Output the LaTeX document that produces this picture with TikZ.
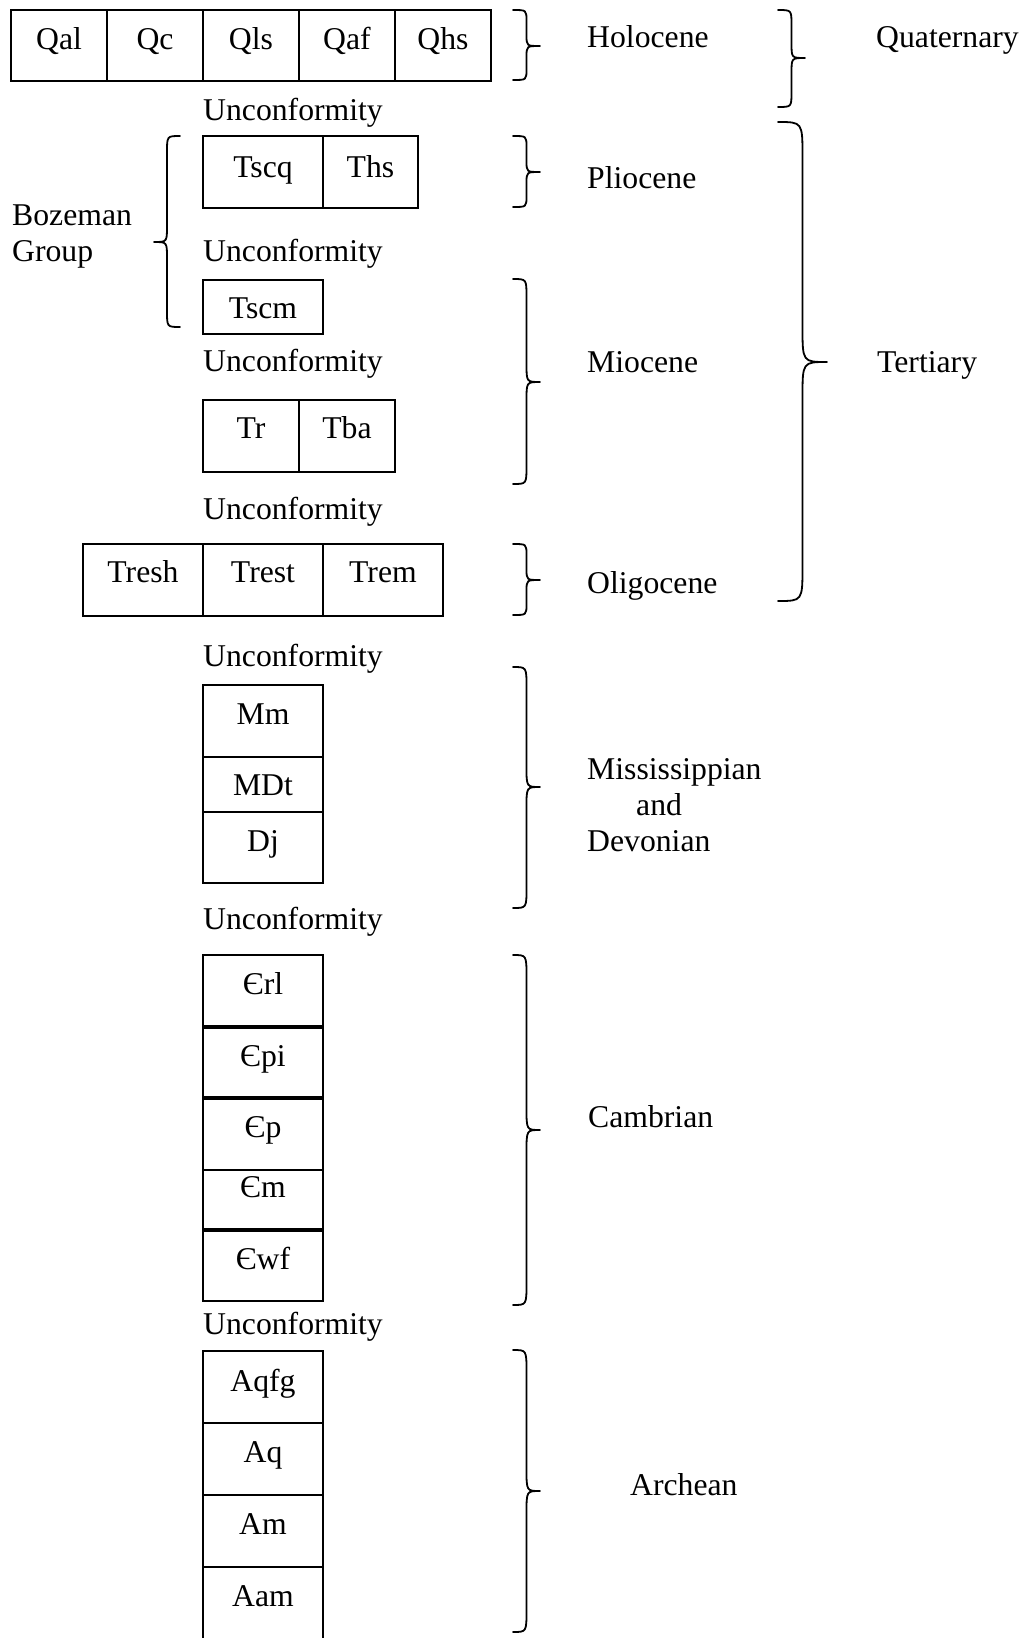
\documentclass[tikz,border=0pt]{standalone}
\usepackage{fontspec}
\setmainfont{Liberation Serif}
\tikzset{
  cell/.style={draw, line width=1.8pt, inner sep=0pt, outer sep=0pt},
  lbl/.style={inner sep=0pt, text height=20pt, text depth=0pt, font=\fontsize{31.7}{36}\selectfont},
  lbw/.style={lbl, anchor=west},
  brc/.style={line width=1.8pt, line cap=round, line join=round},
  thickdiv/.style={line width=3.2pt},
}
% name, x1, y1, x2, y2, text, text y
\newcommand\cellbox[7]{%
  \node[cell, minimum width={#4pt-#2pt}, minimum height={#5pt-#3pt}] (#1) at ({(#2+#4)/2},{(#3+#5)/2}) {};
  \node[lbl] (#1t) at ({(#2+#4)/2},#7) {#6};
}
% hook end x, cusp x, top y, bottom y, cusp y, radius
\newcommand\mybrace[6]{%
  \draw[brc] (#1,#3) .. controls ({(#1+#2)/2},#3) .. ({(#1+#2)/2},{#3+#6})
    -- ({(#1+#2)/2},{#5-#6}) .. controls ({(#1+#2)/2},#5) .. (#2,#5)
    .. controls ({(#1+#2)/2},#5) .. ({(#1+#2)/2},{#5+#6})
    -- ({(#1+#2)/2},{#4-#6}) .. controls ({(#1+#2)/2},#4) .. (#1,#4);
}
\begin{document}
\begin{tikzpicture}[x=1pt,y=-1pt]
\fill[white] (0,0) rectangle (1023,1638);
\useasboundingbox (0,0) rectangle (1023,1638);

% Quaternary row
\cellbox{qal}{11}{10}{107}{81}{Qal}{39.5}
\cellbox{qc}{107}{10}{203}{81}{Qc}{39.5}
\cellbox{qls}{203}{10}{299}{81}{Qls}{39.5}
\cellbox{qaf}{299}{10}{395}{81}{Qaf}{39.5}
\cellbox{qhs}{395}{10}{491}{81}{Qhs}{39.5}

% Tertiary
\cellbox{tscq}{203}{136}{323}{208}{Tscq}{167}
\cellbox{ths}{323}{136}{418}{208}{Ths}{167}
\cellbox{tscm}{203}{280}{323}{334}{Tscm}{308}
\cellbox{tr}{203}{400}{299}{472}{Tr}{428}
\cellbox{tba}{299}{400}{395}{472}{Tba}{428}
\cellbox{tresh}{83}{544}{203}{616}{Tresh}{572}
\cellbox{trest}{203}{544}{323}{616}{Trest}{572}
\cellbox{trem}{323}{544}{443}{616}{Trem}{572}

% Mississippian and Devonian
\cellbox{mm}{203}{685}{323}{757}{Mm}{714}
\cellbox{mdt}{203}{757}{323}{812}{MDt}{785}
\cellbox{dj}{203}{812}{323}{883}{Dj}{841}

% Cambrian
\cellbox{crl}{203}{955}{323}{1027}{Єrl}{984}
\cellbox{cpi}{203}{1027}{323}{1098}{Єpi}{1056}
\cellbox{cp}{203}{1098}{323}{1170}{Єp}{1127}
\cellbox{cm}{203}{1170}{323}{1230}{Єm}{1187}
\cellbox{cwf}{203}{1230}{323}{1301}{Єwf}{1259}
\draw[thickdiv] (crl.south west) -- (crl.south east);
\draw[thickdiv] (cpi.south west) -- (cpi.south east);
\draw[thickdiv] (cm.south west) -- (cm.south east);

% Archean
\cellbox{aqfg}{203}{1351}{323}{1423}{Aqfg}{1381}
\cellbox{aq}{203}{1423}{323}{1495}{Aq}{1452}
\cellbox{am}{203}{1495}{323}{1567}{Am}{1524}
\cellbox{aam}{203}{1567}{323}{1650}{Aam}{1596}

% Unconformities
\node[lbw] (u1) at (203,110) {Unconformity};
\node[lbw] (u2) at (203,251) {Unconformity};
\node[lbw] (u3) at (203,361) {Unconformity};
\node[lbw] (u4) at (203,509) {Unconformity};
\node[lbw] (u5) at (203,656) {Unconformity};
\node[lbw] (u6) at (203,919) {Unconformity};
\node[lbw] (u7) at (203,1324) {Unconformity};

% Bozeman Group
\node[lbw] (boz) at (12,215) {Bozeman};
\node[lbw] (grp) at (12,251) {Group};

% Right-side labels
\node[lbw] (holo) at (587,37) {Holocene};
\node[lbw] (quat) at (876,37) {Quaternary};
\node[lbw] (plio) at (587,178) {Pliocene};
\node[lbw] (mio) at (587,362) {Miocene};
\node[lbw] (tert) at (877,362) {Tertiary};
\node[lbw] (oligo) at (587,583) {Oligocene};
\node[lbw] (miss) at (587,769) {Mississippian};
\node[lbw] (andw) at (636,805) {and};
\node[lbw] (devo) at (587,841) {Devonian};
\node[lbw] (camb) at (588,1117) {Cambrian};
\node[lbw] (arch) at (630,1485) {Archean};

% Braces
\mybrace{513}{540}{10}{80}{46}{11}
\mybrace{778}{805}{10}{107}{58}{15}
\mybrace{513}{540}{136}{207}{172}{11}
\mybrace{513}{540}{279}{484}{382}{18}
\mybrace{513}{540}{544}{615}{580}{11}
\mybrace{778}{827}{122}{601}{362}{35}
\mybrace{180}{154}{136}{327}{242}{16}
\mybrace{513}{540}{667}{908}{787}{20}
\mybrace{513}{540}{955}{1305}{1130}{22}
\mybrace{513}{540}{1350}{1632}{1491}{22}
\end{tikzpicture}
\end{document}
